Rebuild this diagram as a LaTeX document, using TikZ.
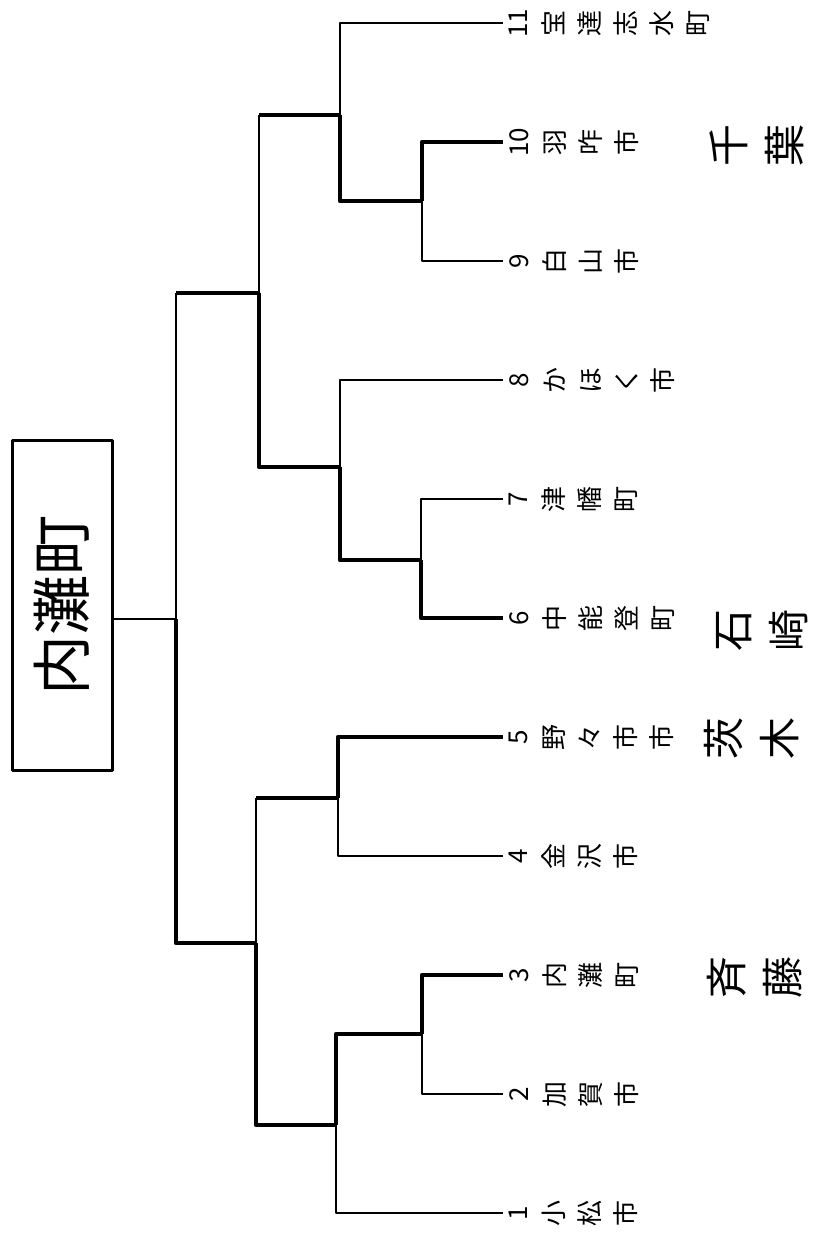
\documentclass[tikz,border=0pt]{standalone}
\usepackage{fontspec}
\newfontfamily\jp{Noto Sans CJK JP}

\tikzset{
	win/.style={line width=4.5pt},
	lose/.style={line width=1.3pt},
	leaflab/.style={rotate=90,anchor=north,align=center,inner sep=0pt,font=\jp\fontsize{26}{36}\selectfont},
	notelab/.style={rotate=90,align=center,inner sep=0pt,font=\jp\fontsize{42}{56}\selectfont},
}

\begin{document}
\begin{tikzpicture}[x=1pt,y=-1pt,line join=round]
				\useasboundingbox (0,0) rectangle (825,1245);

				% leaf ends
				\foreach \i in {1,...,11}
					\coordinate (l\i) at (503,{23+(11-\i)*119});

				% match points
				\coordinate (j910) at (422,201);
				\coordinate (j67)  at (421,560);
				\coordinate (j23)  at (422,1034);
				\coordinate (j11)  at (340,115);
				\coordinate (j8)   at (340,467);
				\coordinate (j45)  at (338,798);
				\coordinate (j1)   at (336,1125);
				\coordinate (ju)   at (259,293);
				\coordinate (jl)   at (256,943);
				\coordinate (jr)   at (176,619);

				% winner box
				\node[draw,line width=3pt,rotate=90,minimum width=330pt,minimum height=100pt,inner sep=0pt,font=\jp\fontsize{60}{60}\selectfont] (root) at (62,605) {内灘町};

				% first round
				\draw[win]  (l10) -| (j910);
				\draw[lose] (l9)  -| (j910);
				\draw[win]  (l6)  -| (j67);
				\draw[lose] (l7)  -| (j67);
				\draw[win]  (l3)  -| (j23);
				\draw[lose] (l2)  -| (j23);
				\draw[win]  (l5)  -| (j45);
				\draw[lose] (l4)  -| (j45);

				% second round
				\draw[win]  (j910) -| (j11);
				\draw[lose] (l11)  -| (j11);
				\draw[win]  (j67)  -| (j8);
				\draw[lose] (l8)   -| (j8);
				\draw[win]  (j23)  -| (j1);
				\draw[lose] (l1)   -| (j1);

				% semi finals
				\draw[win]  (j11) -- (j11 -| ju);
				\draw[lose] (j11 -| ju) -- (ju);
				\draw[win]  (j8) -| (ju);
				\draw[win]  (j45) -- (j45 -| jl);
				\draw[lose] (j45 -| jl) -- (jl);
				\draw[win]  (j1) -| (jl);

				% final
				\draw[win]  (ju) -- (ju -| jr);
				\draw[lose] (ju -| jr) -- (jr);
				\draw[win]  (jl) -| (jr);
				\draw[line width=2.5pt] (jr) -- (jr -| root.south);

				% towns
				\node[leaflab] (t1)  at ([xshift=6pt]l1)  {1\\小\\松\\市};
				\node[leaflab] (t2)  at ([xshift=6pt]l2)  {2\\加\\賀\\市};
				\node[leaflab] (t3)  at ([xshift=6pt]l3)  {3\\内\\灘\\町};
				\node[leaflab] (t4)  at ([xshift=6pt]l4)  {4\\金\\沢\\市};
				\node[leaflab] (t5)  at ([xshift=6pt]l5)  {5\\野\\々\\市\\市};
				\node[leaflab] (t6)  at ([xshift=6pt]l6)  {6\\中\\能\\登\\町};
				\node[leaflab] (t7)  at ([xshift=6pt]l7)  {7\\津\\幡\\町};
				\node[leaflab] (t8)  at ([xshift=6pt]l8)  {8\\か\\ほ\\く\\市};
				\node[leaflab] (t9)  at ([xshift=6pt]l9)  {9\\白\\山\\市};
				\node[leaflab] (t10) at ([xshift=6pt]l10) {10\\羽\\咋\\市};
				\node[leaflab] (t11) at ([xshift=6pt]l11) {11\\宝\\達\\志\\水\\町};

				% handwritten names
				\node[notelab] (n10) at (757,145) {千\\葉};
				\node[notelab] (n6)  at (762,630) {石\\崎};
				\node[notelab] (n5)  at (752,738) {茨\\木};
				\node[notelab] (n3)  at (755,977) {斉\\藤};
			\end{tikzpicture}
\end{document}
